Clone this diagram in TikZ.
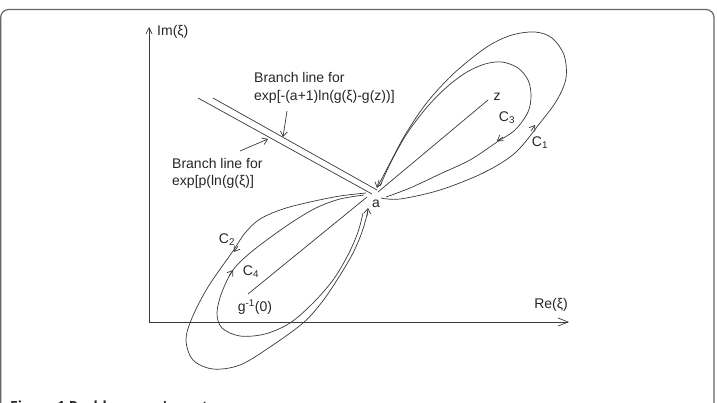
\documentclass[tikz,border=0pt]{standalone}
\usepackage{fontspec}
\setmainfont{Liberation Sans}
\newfontfamily\capfont{Open Sans}
\usetikzlibrary{arrows.meta}
\begin{document}
\begin{tikzpicture}[x=1pt,y=-1pt,
  ln/.style={draw=black!78, line width=0.7pt},
  barb/.style={-{Straight Barb[length=5pt,width=7pt]}},
  axarr/.style={-{Straight Barb[length=10pt,width=8pt]}},
  yarr/.style={-{Straight Barb[length=6pt,width=6pt]}},
  lbl/.style={inner sep=0pt, font=\fontsize{14}{16}\selectfont, text=black!85},
  frame/.style={draw=black!60, line width=1.2pt, rounded corners=8pt}]
\useasboundingbox (0,0) rectangle (717,402);
\clip (0,0) rectangle (717,402);
% frame
\draw[frame] (0.7,430) -- (0.7,9.5) -- (714,9.5) -- (714,430);
% axes
\coordinate (O) at (149,322);
\coordinate (ytip) at (149,27);
\coordinate (xtip) at (569,322);
\draw[ln,yarr] (O) -- (ytip);
\draw[ln,axarr] (O) -- (xtip);
\node[lbl,anchor=west] (im) at (157,32) {Im(ξ)};
\node[lbl] (re) at (551,305) {Re(ξ)};
% key points
\coordinate (zpt) at (488,100);
\coordinate (g0) at (248,294);
\coordinate (zend) at (378,192);
\coordinate (gend) at (367,197);
% branch lines
\coordinate (b1s) at (198,98);
\coordinate (b1e) at (372,194);
\coordinate (b2s) at (213,98);
\coordinate (b2e) at (377,190);
\draw[ln] (b1s) -- (b1e);
\draw[ln] (b2s) -- (b2e);
% annotation arrows
\coordinate (n1s) at (287,111);
\coordinate (n1e) at (283,137);
\coordinate (n2s) at (240,151);
\coordinate (n2e) at (268,139);
\draw[ln,barb] (n1s) -- (n1e);
\draw[ln,barb] (n2s) -- (n2e);
\node[lbl,anchor=west] (bl1a) at (254,77) {Branch line for};
\node[lbl,anchor=west] (bl1b) at (254,97) {exp[-(a+1)ln(g(ξ)-g(z))]};
\node[lbl,anchor=west] (bl2a) at (172,163) {Branch line for};
\node[lbl,anchor=west] (bl2b) at (172,182) {exp[p(ln(g(ξ)]};
% straight lines
\draw[ln] (zpt) -- (zend);
\draw[ln] (g0) -- (gend);
% upper loops
\draw[ln] plot[smooth,tension=0.55] coordinates {(381,198) (400,199) (440,190) (483,173) (515,153) (540,123) (557,100) (566,78) (564,55) (552,38) (535,32) (512,35) (490,45) (467,62) (447,80) (425,105) (405,135) (390,163) (378,186)};
\draw[ln] plot[smooth,tension=0.55] coordinates {(380,186) (392,160) (408,132) (428,106) (448,86) (467,72) (485,64) (502,62) (518,68) (528,80) (531,95) (528,112) (515,130) (497,142) (470,160) (440,174) (410,188) (386,197)};
% lower loops
\draw[ln] plot[smooth,tension=0.55] coordinates {(366,193) (340,196) (310,202) (283,209) (260,219) (245,233) (233,251) (208,287) (192,318) (186,340) (193,360) (213,369) (240,365) (270,347) (303,323) (322,302) (337,280) (352,255) (362,232) (368,211)};
\draw[ln] plot[smooth,tension=0.55] coordinates {(364,195) (340,199) (318,207) (297,219) (275,234) (250,253) (233,270) (222,292) (217,313) (222,328) (240,336) (265,334) (290,323) (313,303) (333,280) (348,255) (358,232) (363,213)};
% arrowheads on contours
\draw[ln,barb] (531,131) -- (535,125);
\draw[ln,barb] (503,137) -- (497,141);
\draw[ln,barb] (379,180) -- (377,188);
\draw[ln,barb] (238,246) -- (234,252);
\draw[ln,barb] (229,276) -- (233,270);
\draw[ln,barb] (367,216) -- (368,208);
% labels
\node[lbl] (zl) at (497,97) {z};
\node[lbl] (c3) at (507,118) {C\textsubscript{3}};
\node[lbl] (c1) at (540,143) {C\textsubscript{1}};
\node[lbl] (al) at (376,204) {a};
\node[lbl] (c2) at (227,240) {C\textsubscript{2}};
\node[lbl] (c4) at (251,272) {C\textsubscript{4}};
\node[lbl] (gl) at (255,307) {g\textsuperscript{-1}(0)};
% caption (cut off at the lower edge, as in the reference)
\node[inner sep=0pt,anchor=base west,font=\capfont\bfseries\fontsize{14}{16}\selectfont,text=black!85] (cap) at (10,411) {Figure 1 Pochhammer's contour};
\end{tikzpicture}
\end{document}
